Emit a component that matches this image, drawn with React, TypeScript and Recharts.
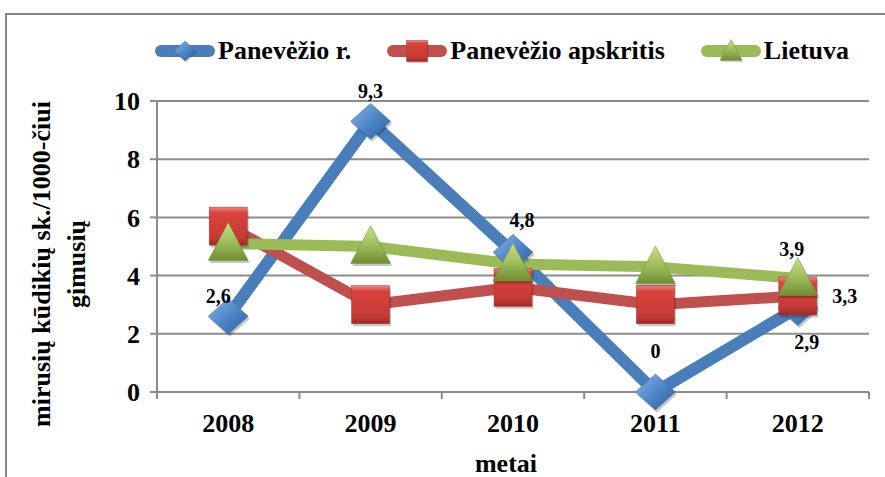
import { LineChart, Line, XAxis, YAxis, CartesianGrid, LabelList } from "recharts";

const YEARS = ["2008", "2009", "2010", "2011", "2012"];
const RAJONAS = [2.6, 9.3, 4.8, 0, 2.9];
const APSKRITIS = [5.7, 3.0, 3.6, 3.0, 3.3];
const LIETUVA = [5.1, 5.0, 4.4, 4.3, 3.9];
const Y_TICKS = [0, 2, 4, 6, 8, 10];

const BLUE = "#4a7ebb";
const RED = "#c0504d";
const GREEN = "#9bbb59";
const GRID = "#8c8c8c";
const FONT = "Liberation Serif, Times New Roman, DejaVu Serif, serif";

const data = YEARS.map((year, i) => ({
  year,
  raj: RAJONAS[i],
  aps: APSKRITIS[i],
  lt: LIETUVA[i],
}));

// label offsets from the point, null = no label
const RAJ_LBL: ([number, number] | null)[] = [[-10, -20], [0, -30], [9, -32], [0, -41], [9, 34]];
const APS_LBL: ([number, number] | null)[] = [null, null, null, null, [47, 0]];
const LT_LBL: ([number, number] | null)[] = [null, null, null, null, [-6, -30]];

const W = 885;
const H = 477;
const M = { top: 101, right: 16, bottom: 35, left: 97 };
const BAND = (W - M.left - 60 - M.right) / YEARS.length;

const fmt = (v: number) => String(v).replace(".", ",");

function Diamond({ cx, cy, s = 1 }: any) {
  const w = 20 * s, h = 18 * s;
  const pts = (dx: number, dy: number) =>
    `${cx + dx},${cy - h + dy} ${cx + w + dx},${cy + dy} ${cx + dx},${cy + h + dy} ${cx - w + dx},${cy + dy}`;
  return (
    <g>
      <polygon points={pts(1.5 * s, 2.5 * s)} fill="rgba(0,0,0,0.22)" />
      <polygon points={pts(0, 0)} fill="url(#gBlue)" stroke="#3f6ea8" strokeWidth={0.5} />
    </g>
  );
}

function Square({ cx, cy, s = 1 }: any) {
  const a = 19 * s;
  return (
    <g>
      <rect x={cx - a + 1.5 * s} y={cy - a + 2.5 * s} width={2 * a} height={2 * a} fill="rgba(0,0,0,0.22)" />
      <rect x={cx - a} y={cy - a} width={2 * a} height={2 * a} fill="url(#gRed)" stroke="#9e3431" strokeWidth={0.5} />
    </g>
  );
}

function Triangle({ cx, cy, s = 1 }: any) {
  const w = 20 * s, t = 21 * s, b = 17 * s;
  const pts = (dx: number, dy: number) =>
    `${cx + dx},${cy - t + dy} ${cx + w + dx},${cy + b + dy} ${cx - w + dx},${cy + b + dy}`;
  return (
    <g>
      <polygon points={pts(1.5 * s, 2.5 * s)} fill="rgba(0,0,0,0.22)" />
      <polygon points={pts(0, 0)} fill="url(#gGreen)" stroke="#76923c" strokeWidth={0.5} />
    </g>
  );
}

function Gradients() {
  return (
    <defs>
      <linearGradient id="gBlue" x1="0" y1="0" x2="1" y2="1">
        <stop offset="0%" stopColor="#8db4e6" />
        <stop offset="50%" stopColor="#4f86c9" />
        <stop offset="100%" stopColor="#2d5d9c" />
      </linearGradient>
      <linearGradient id="gRed" x1="0" y1="0" x2="0" y2="1">
        <stop offset="0%" stopColor="#ef8580" />
        <stop offset="15%" stopColor="#d8433d" />
        <stop offset="80%" stopColor="#c73a35" />
        <stop offset="100%" stopColor="#9c2a26" />
      </linearGradient>
      <linearGradient id="gGreen" x1="0" y1="0" x2="0" y2="1">
        <stop offset="0%" stopColor="#c6e08a" />
        <stop offset="55%" stopColor="#9bbb59" />
        <stop offset="100%" stopColor="#6f8d32" />
      </linearGradient>
    </defs>
  );
}

function makeLabel(offsets: ([number, number] | null)[]) {
  return (p: any) => {
    const o = offsets[p.index];
    if (!o) return null;
    return (
      <text
        key={p.index}
        x={p.x + o[0]}
        y={p.y + o[1]}
        textAnchor="middle"
        dominantBaseline="central"
        fontFamily={FONT}
        fontWeight="bold"
        fontSize={20}
        fill="#000"
      >
        {fmt(p.value)}
      </text>
    );
  };
}

function XTick({ x, y, payload, index }: any) {
  return (
    <g>
      <line x1={x - BAND / 2} y1={y} x2={x - BAND / 2} y2={y + 7} stroke={GRID} strokeWidth={2} />
      {index === YEARS.length - 1 && (
        <line x1={x + BAND / 2} y1={y} x2={x + BAND / 2} y2={y + 7} stroke={GRID} strokeWidth={2} />
      )}
      <text x={x} y={y + 40} textAnchor="middle" fontFamily={FONT} fontWeight="bold" fontSize={26} fill="#000">
        {payload.value}
      </text>
    </g>
  );
}

function LegendIcon({ color, Marker }: any) {
  return (
    <svg width={60} height={26} style={{ overflow: "visible" }}>
      <Gradients />
      <line x1={6} y1={13} x2={54} y2={13} stroke={color} strokeWidth={12} strokeLinecap="round" />
      <Marker cx={30} cy={13} s={0.55} />
    </svg>
  );
}

const LEGEND = [
  { name: "Panevėžio r.", color: BLUE, Marker: Diamond },
  { name: "Panevėžio apskritis", color: RED, Marker: Square },
  { name: "Lietuva", color: GREEN, Marker: Triangle },
];

function ChartLegend() {
  return (
    <div style={{ position: "absolute", left: 155, top: 36, display: "flex", alignItems: "center", gap: 36 }}>
      {LEGEND.map((it) => (
        <div key={it.name} style={{ display: "flex", alignItems: "center", gap: 3 }}>
          <LegendIcon color={it.color} Marker={it.Marker} />
          <span style={{ fontFamily: FONT, fontWeight: "bold", fontSize: 26, color: "#000", lineHeight: "30px" }}>
            {it.name}
          </span>
        </div>
      ))}
    </div>
  );
}

export default function App() {
  return (
    <div style={{ position: "fixed", left: 0, top: 0, width: W, height: H, overflow: "hidden", background: "#fff" }}>
      <div
        style={{
          position: "absolute",
          left: 5,
          top: 13,
          width: 950,
          height: 550,
          border: "2px solid #878787",
          boxSizing: "border-box",
        }}
      />
      <LineChart width={W} height={H} data={data} margin={M}>
        <Gradients />
        <CartesianGrid vertical={false} stroke={GRID} strokeWidth={2} />
        <XAxis
          dataKey="year"
          scale="band"
          interval={0}
          height={50}
          tickSize={0}
          tickMargin={0}
          tickLine={false}
          axisLine={{ stroke: GRID, strokeWidth: 2 }}
          tick={<XTick />}
          label={{
            content: () => (
              <text x={506} y={472} textAnchor="middle" fontFamily={FONT} fontWeight="bold" fontSize={26} fill="#000">
                metai
              </text>
            ),
          }}
        />
        <YAxis
          width={60}
          domain={[0, 10]}
          ticks={Y_TICKS}
          interval={0}
          tickSize={7}
          tickMargin={10}
          axisLine={{ stroke: GRID, strokeWidth: 2 }}
          tickLine={{ stroke: GRID, strokeWidth: 2 }}
          tick={{ fontFamily: FONT, fontWeight: "bold", fontSize: 26, fill: "#000" }}
          label={{
            content: () => (
              <g fontFamily={FONT} fontWeight="bold" fontSize={26} fill="#000" textAnchor="middle">
                <text x={41} y={264} transform="rotate(-90 41 264)" dominantBaseline="central">
                  mirusių kūdikių sk./1000-čiui
                </text>
                <text x={76} y={264} transform="rotate(-90 76 264)" dominantBaseline="central">
                  gimusių
                </text>
              </g>
            ),
          }}
        />
        <Line
          dataKey="raj"
          name="Panevėžio r."
          stroke={BLUE}
          strokeWidth={12}
          strokeLinejoin="round"
          isAnimationActive={false}
          dot={(p: any) => <Diamond key={p.index} cx={p.cx} cy={p.cy} />}
          activeDot={false}
        >
          <LabelList dataKey="raj" content={makeLabel(RAJ_LBL)} />
        </Line>
        <Line
          dataKey="aps"
          name="Panevėžio apskritis"
          stroke={RED}
          strokeWidth={11}
          strokeLinejoin="round"
          isAnimationActive={false}
          dot={(p: any) => <Square key={p.index} cx={p.cx} cy={p.cy} />}
          activeDot={false}
        >
          <LabelList dataKey="aps" content={makeLabel(APS_LBL)} />
        </Line>
        <Line
          dataKey="lt"
          name="Lietuva"
          stroke={GREEN}
          strokeWidth={11}
          strokeLinejoin="round"
          isAnimationActive={false}
          dot={(p: any) => <Triangle key={p.index} cx={p.cx} cy={p.cy} />}
          activeDot={false}
        >
          <LabelList dataKey="lt" content={makeLabel(LT_LBL)} />
        </Line>
      </LineChart>
      <ChartLegend />
    </div>
  );
}
